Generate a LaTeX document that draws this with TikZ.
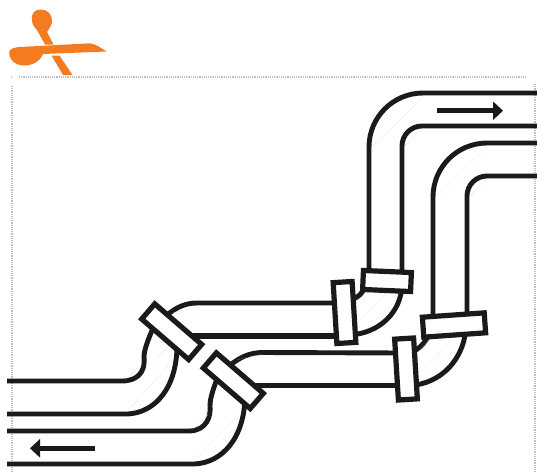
\documentclass[tikz,border=0pt]{standalone}
\usepackage{tikz}
\usetikzlibrary{arrows.meta}
\definecolor{scissorsorange}{HTML}{F47B20}
\definecolor{pipeblack}{HTML}{1A1A18}

\begin{document}
\begin{tikzpicture}[x=1pt, y=-1pt,
  pipe/.style={draw=pipeblack, line width=4.9pt},
  clamp/.style={rectangle, draw=pipeblack, fill=white, line width=5.2pt, inner sep=0pt, minimum width=62pt, minimum height=20pt},
  direction/.style={draw=pipeblack, line width=4.8pt, -{Triangle[length=10pt, width=18pt]}},
  seam/.style={draw=black!22, line width=0.4pt, densely dotted},
  frame/.style={draw=black!25, line width=2pt, dash pattern=on 1.2pt off 1pt},
]
\useasboundingbox (0,0) rectangle (537,475);

% scissors
\fill[scissorsorange] (32,20) .. controls (31,13) and (35,9.5) .. (41,9.5) .. controls (48,9.5) and (52.5,15) .. (52,22)
  .. controls (51.5,26) and (49,29) .. (47,32) -- (53.5,44.5) -- (45,44.5) -- (37,30) .. controls (34,27) and (32,24) .. (32,20) -- cycle;
\fill[scissorsorange] (51.5,55.5) -- (59.5,55.5) -- (72.5,75) -- (63,75) -- cycle;
\fill[scissorsorange] (9.5,51) .. controls (11,48) and (16,47.3) .. (20,47) -- (90,43.3)
  .. controls (96,44) and (101,48) .. (106.5,51.5) -- (43,54)
  .. controls (40,61) and (33,65.5) .. (24,65.5) .. controls (15,65.5) and (8,59) .. (9.5,51) -- cycle;

% dotted frame
\draw[frame] (11,76.7) -- (13,76.7);
\draw[frame] (19,76.7) -- (527,76.7);
\draw[frame] (12,86) -- (12,472);
\draw[frame] (535,84) -- (535,472);

\coordinate (rightA) at (537,93);
\coordinate (rightB) at (537,126);
\coordinate (rightC) at (537,143);
\coordinate (rightD) at (537,176);
\coordinate (leftA) at (7,381);
\coordinate (leftB) at (7,414);
\coordinate (leftC) at (7,431);
\coordinate (leftD) at (7,464);

% pipes
\draw[pipe] (rightA) -- (423,93) arc [start angle=90, end angle=180, radius=54pt] -- (369,281);
\draw[pipe] (rightB) -- (422,126) arc [start angle=90, end angle=180, radius=20pt] -- (402,281);
\draw[pipe] (rightC) -- (487,143) arc [start angle=90, end angle=180, radius=54pt] -- (433,325);
\draw[pipe] (rightD) -- (487,176) arc [start angle=90, end angle=180, radius=20pt] -- (467,325);

\draw[pipe] (402,285) .. controls (401,312) and (380,333) .. (350,335);
\draw[pipe] (366,285) .. controls (364,292) and (358,298) .. (350,300);
\draw[pipe] (466,325) .. controls (465,360) and (440,384) .. (410,385.5);
\draw[pipe] (431,330) .. controls (428,339) and (420,350) .. (410,352.5);

\draw[pipe] (344,303) -- (197,303) .. controls (186,303) and (176,307) .. (166,316);
\draw[pipe, line width=5.6pt] (344,336) -- (190,336);
\draw[pipe] (406,353) -- (263,352.5) .. controls (250,352.5) and (240,357) .. (229,366);
\draw[pipe] (406,385.5) -- (250,385.5);

\draw[pipe] (leftA) -- (123,381) .. controls (143,380) and (145,366) .. (144,357) .. controls (144,350) and (148,340) .. (153,328);
\draw[pipe] (leftB) -- (127,414) .. controls (155,413) and (177,388) .. (177,345);
\draw[pipe] (leftC) -- (190,431) .. controls (207,430) and (211,416) .. (210,406) .. controls (210,398) and (213,390) .. (218,376);
\draw[pipe] (leftD) -- (194,464) .. controls (222,463) and (245,438) .. (245,395);

% seams on the bends
\foreach \sx/\sy/\ex/\ey in {424/97/372/147, 421/129/405/146, 487/147/436/197, 487/179/470/196,
  385/295/358/322, 453/340/420/373, 430/339/420/349,
  125/380/142/365, 147/368/170/345, 127/412/173/360, 173/313/197/307,
  192/430/208/415, 193/462/242/412, 237/360/263/354}
  \draw[seam] (\sx,\sy) -- (\ex,\ey);

% clamps
\node[clamp, rotate=-2.5, minimum width=48pt, minimum height=19pt] (clampA) at (387,281) {};
\node[clamp, rotate=3.5, minimum width=19pt, minimum height=61pt] (clampB) at (344.5,312.5) {};
\node[clamp, rotate=4] (clampC) at (454,325) {};
\node[clamp, rotate=3.5, minimum width=19pt, minimum height=61pt] (clampD) at (406,369) {};
\node[clamp, rotate=-40.8] (clampE) at (171.7,331.7) {};
\node[clamp, rotate=-40.8] (clampF) at (233.3,380.7) {};

% flow arrows
\coordinate (flowinstart) at (437,110.7);
\coordinate (flowinend) at (503,110.7);
\coordinate (flowoutstart) at (95,448.3);
\coordinate (flowoutend) at (30,448.3);
\draw[direction] (flowinstart) -- (flowinend);
\draw[direction] (flowoutstart) -- (flowoutend);
\end{tikzpicture}
\end{document}
